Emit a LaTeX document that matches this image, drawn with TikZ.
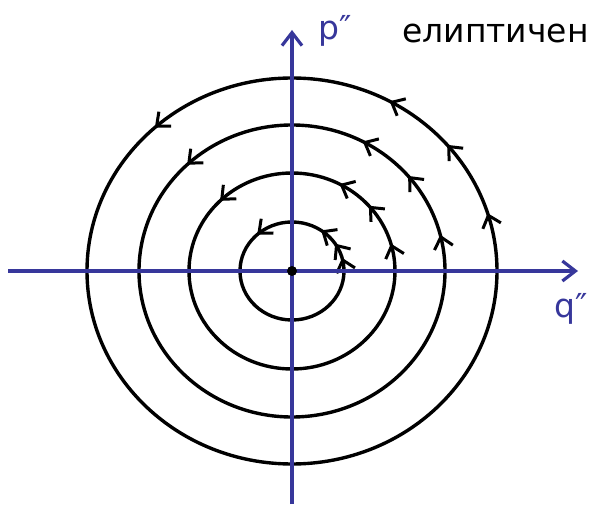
\documentclass[tikz,border=0pt]{standalone}
\usepackage{fontspec}
\usetikzlibrary{arrows.meta,decorations.markings}
\newfontfamily\hand{DejaVu Sans}
\definecolor{axisblue}{RGB}{55,55,155}
\tikzset{
  x=1pt,y=1pt,
  orbit/.style={line width=3.4pt, black},
  axisline/.style={line width=3.4pt, axisblue, -{Straight Barb[length=13pt,width=20pt,line width=3.2pt]}},
  am/.style={postaction={decorate,decoration={markings,mark=at position #1 with {\arrow{Straight Barb[length=11pt,width=19pt,line width=3pt]}}}}},
  lbl/.style={font=\hand\fontsize{33}{36}\selectfont, inner sep=0pt},
}
\begin{document}
\begin{tikzpicture}
\useasboundingbox (0,0) rectangle (603,504);
\coordinate (o) at (292,233);
\coordinate (xs) at (8,233);
\coordinate (xe) at (578,233);
\coordinate (ys) at (292,0);
\coordinate (ye) at (292,474);
% orbits
\draw[orbit,am=0.042,am=0.092,am=0.153,am=0.369] (o) ++(52,0) arc[start angle=0,end angle=360,x radius=52,y radius=49];
\draw[orbit,am=0.044,am=0.114,am=0.172,am=0.375] (o) ++(103,0) arc[start angle=0,end angle=360,x radius=103,y radius=98];
\draw[orbit,am=0.039,am=0.111,am=0.172,am=0.372] (o) ++(153,0) arc[start angle=0,end angle=360,x radius=153,y radius=146];
\draw[orbit,am=0.047,am=0.111,am=0.169,am=0.369] (o) ++(205,0) arc[start angle=0,end angle=360,x radius=205,y radius=193];
% axes
\draw[axisline] (xs) -- (xe);
\draw[axisline] (ys) -- (ye);
\node[circle,fill=black,inner sep=0pt,minimum size=10pt] (dot) at (o) {};
% labels
\node[lbl,text=axisblue,anchor=base west] (plabel) at (318,464) {p″};
\node[lbl,anchor=base west] (title) at (402,461) {елиптичен};
\node[lbl,text=axisblue,anchor=base west] (qlabel) at (554,186) {q″};
\end{tikzpicture}
\end{document}
